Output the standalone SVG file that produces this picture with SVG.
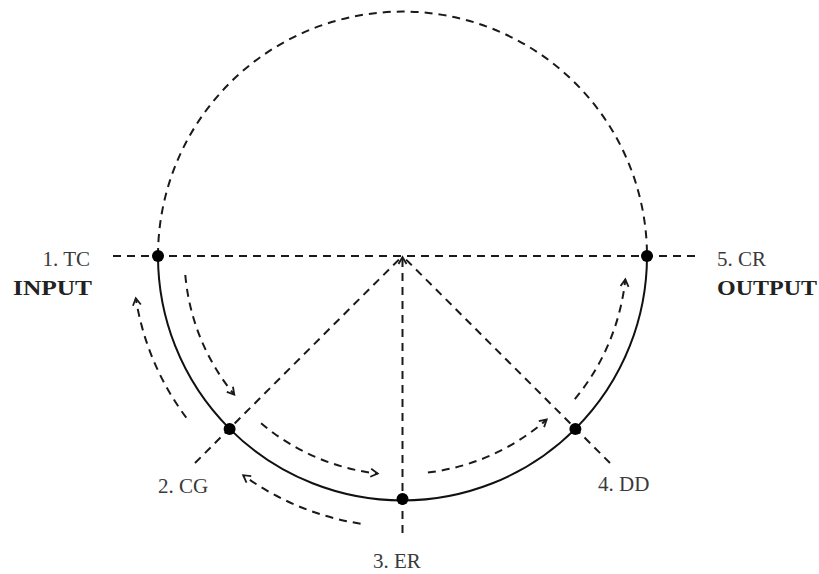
<svg xmlns="http://www.w3.org/2000/svg" width="819" height="574" viewBox="0 0 819 574">
<style>
.dash{fill:none;stroke:#1a1a1a;stroke-width:2;stroke-dasharray:8 6}
.flow{fill:none;stroke:#1a1a1a;stroke-width:2;stroke-dasharray:8 6;marker-end:url(#chev)}
.solid{fill:none;stroke:#111;stroke-width:2}
.dot{fill:#000}
.lbl{font-family:"Liberation Serif","Times New Roman",serif;font-size:21px;fill:#3a3a3a}
.bold{font-family:"Liberation Serif","Times New Roman",serif;font-size:21px;font-weight:bold;fill:#222}
</style>
<defs>
<marker id="chev" markerUnits="userSpaceOnUse" viewBox="-1 -1 12 12" refX="8" refY="5" markerWidth="12" markerHeight="12" orient="auto">
<path d="M1,1 L8,5 L1,9" fill="none" stroke="#1a1a1a" stroke-width="1.8"/>
</marker>
</defs>
<rect width="819" height="574" fill="#fff"/>
<g id="connectors">
<path class="dash" d="M158,256 A244.5,244.5 0 0 1 647,256"/>
<path class="solid" d="M158,256 A244.5,244.5 0 0 0 647,256"/>
<line class="dash" x1="113" y1="256" x2="697" y2="256"/>
<line class="dash" x1="195" y1="463" x2="402.5" y2="256"/>
<line class="dash" x1="610" y1="463" x2="402.5" y2="256"/>
<line class="flow" x1="402.5" y1="533" x2="402.5" y2="257"/>
<path class="flow" d="M185.3,275 A218,218 0 0 0 234.3,394.7"/>
<path class="flow" d="M261.1,423.3 A219,219 0 0 0 377.7,473.6"/>
<path class="flow" d="M427.9,472.5 A218,218 0 0 0 546.7,419.5"/>
<path class="flow" d="M574.8,399.1 A224,224 0 0 0 625.3,279.4"/>
<path class="flow" d="M186.3,417.7 A270,270 0 0 1 135.8,298.2"/>
<path class="flow" d="M360.6,523.7 A271,271 0 0 1 243.2,475.2"/>
</g>
<g id="node-tc">
<circle class="dot" cx="158" cy="256" r="6"/>
<text class="lbl" x="90" y="266" text-anchor="end">1. TC</text>
<text class="bold" x="13" y="295" textLength="79" lengthAdjust="spacingAndGlyphs">INPUT</text>
</g>
<g id="node-cg">
<circle class="dot" cx="229.6" cy="428.9" r="6"/>
<text class="lbl" x="158" y="493">2. CG</text>
</g>
<g id="node-er">
<circle class="dot" cx="402.5" cy="499" r="6"/>
<text class="lbl" x="373" y="568">3. ER</text>
</g>
<g id="node-dd">
<circle class="dot" cx="575.4" cy="428.9" r="6"/>
<text class="lbl" x="598" y="491">4. DD</text>
</g>
<g id="node-cr">
<circle class="dot" cx="647" cy="256" r="6"/>
<text class="lbl" x="717" y="266">5. CR</text>
<text class="bold" x="717" y="295" textLength="100" lengthAdjust="spacingAndGlyphs">OUTPUT</text>
</g>
</svg>
